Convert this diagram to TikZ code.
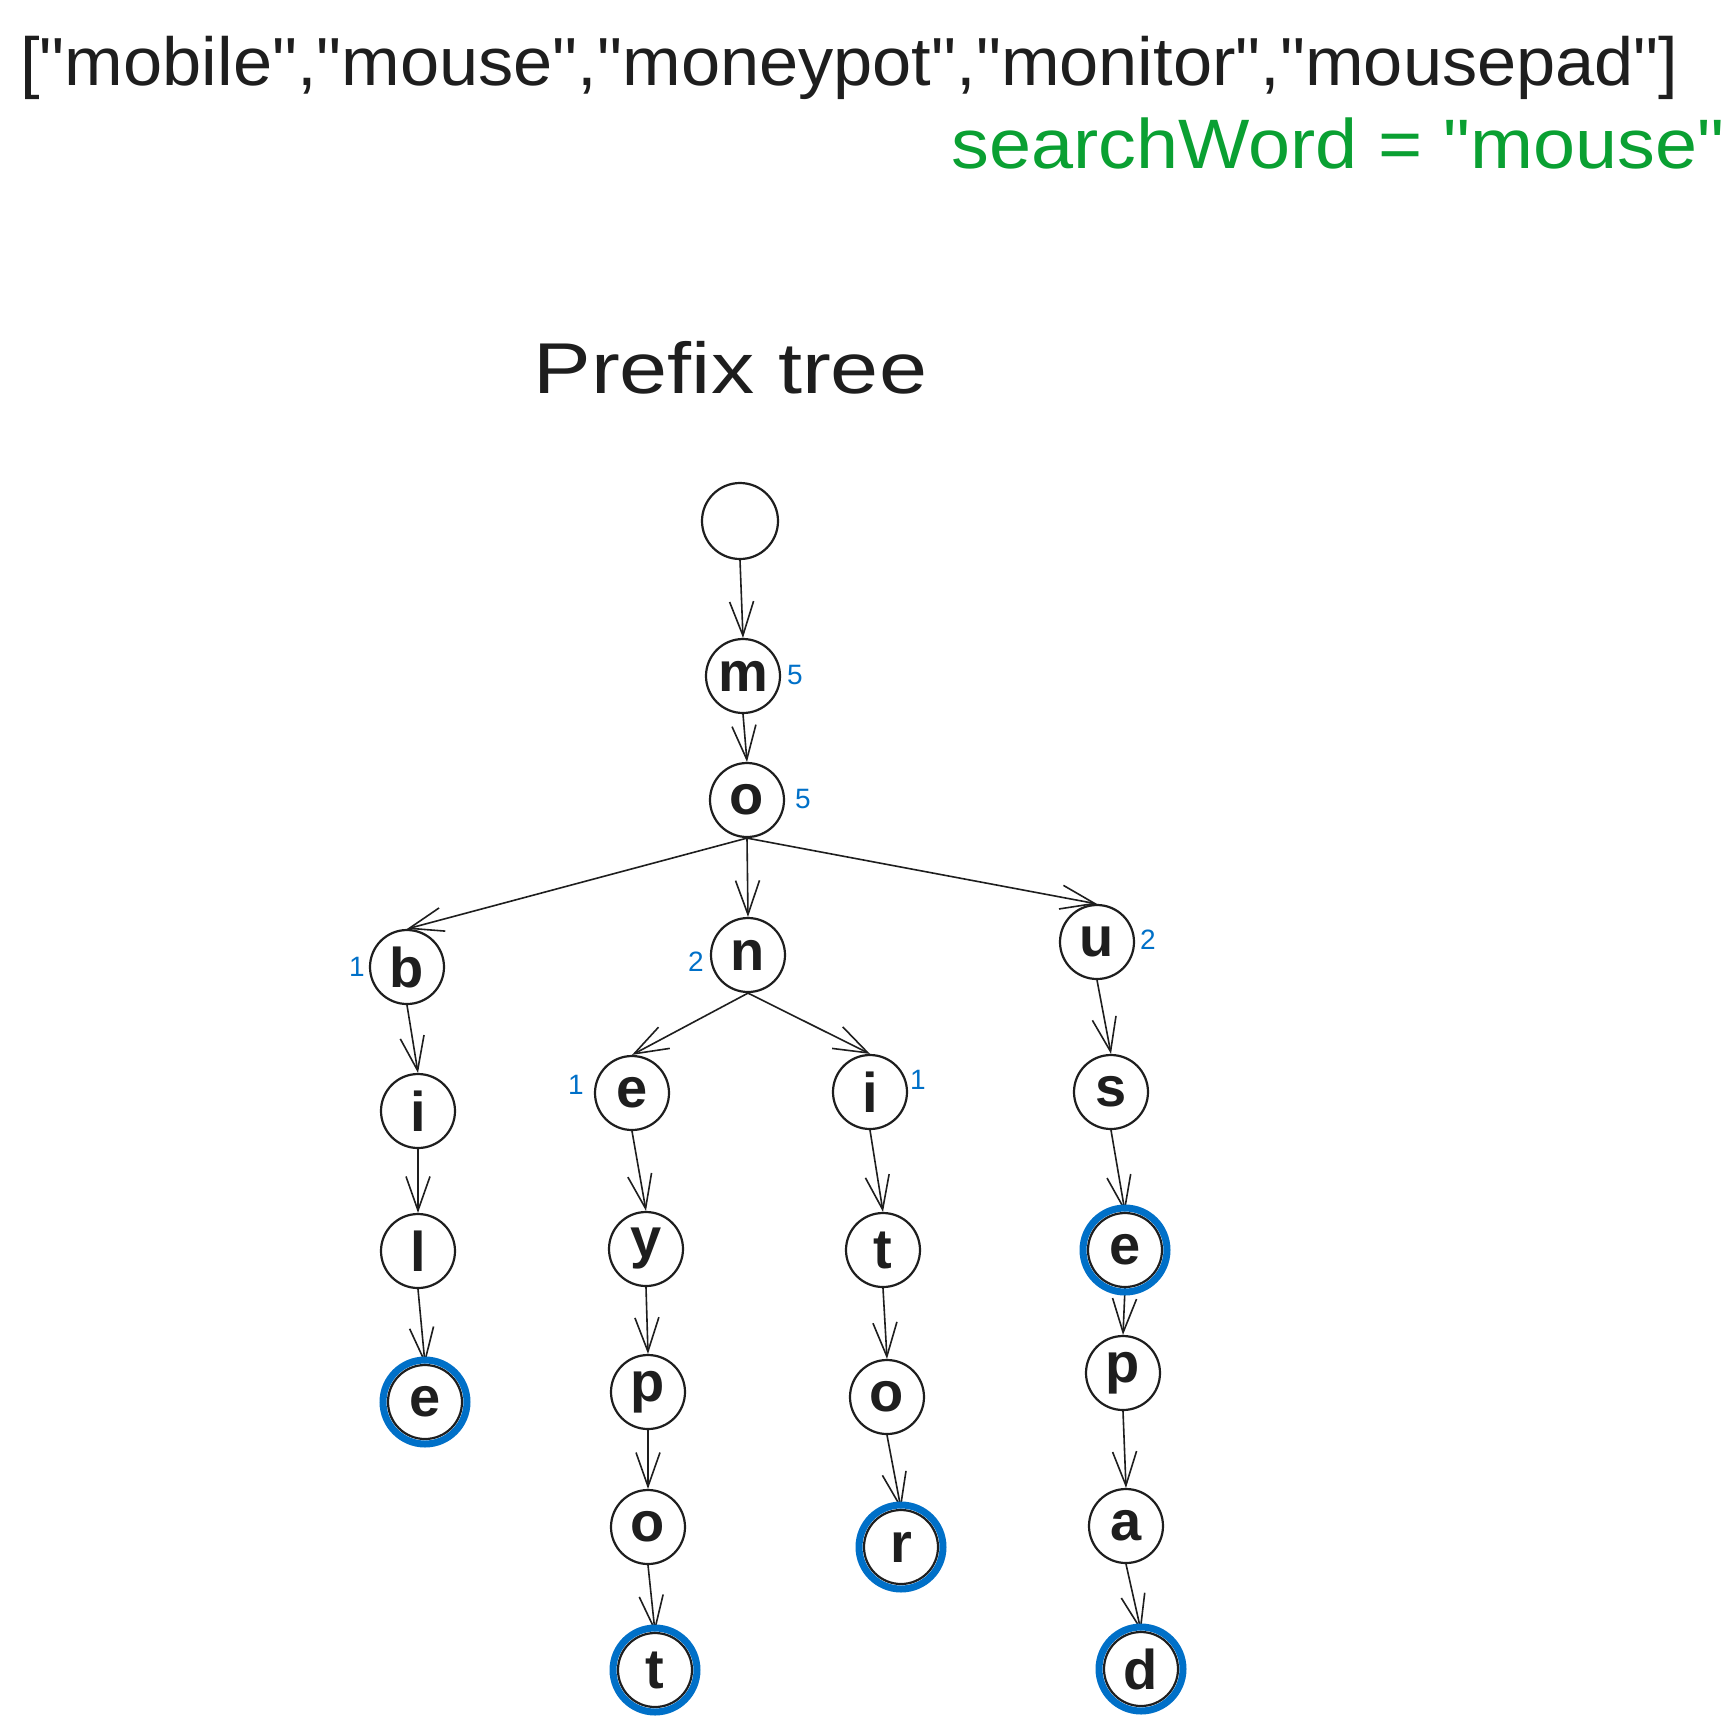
\documentclass[tikz,border=0pt]{standalone}
\usepackage{fontspec}
\setmainfont{Liberation Sans}[Ligatures=TeXOff]
\usetikzlibrary{arrows.meta}
\definecolor{exgreen}{RGB}{10,160,50}
\definecolor{exblue}{RGB}{0,112,200}
\definecolor{ink}{RGB}{30,30,30}
\begin{document}
\begin{tikzpicture}[x=0.5pt,y=-0.5pt,
  tn/.style={circle, draw=ink, line width=1.1pt, minimum size=37pt, inner sep=0pt,
    font=\fontsize{28}{28}\selectfont\bfseries, text=ink},
  cnt/.style={text=exblue, font=\fontsize{14}{14}\selectfont, inner sep=0pt},
  edge/.style={draw=ink, line width=0.8pt, -{Straight Barb[length=17pt,width=12pt]}},
  ring/.style={draw=exblue, line width=3.5pt},
  big/.style={inner sep=0pt, font=\fontsize{34}{34}\selectfont}]
\useasboundingbox (0,0) rectangle (1736,1730);
\fill[white] (0,0) rectangle (1736,1730);

% texts
\node[big, anchor=base west, text=ink] (words) at (20,85)
  {\scalebox{1.035}[1]{["mobile","mouse","moneypot","monitor","mousepad"]}};
\node[big, anchor=base east, text=exgreen, font=\fontsize{35}{35}\selectfont] (search) at (1725,168)
  {\scalebox{1.08}[1]{searchWord = "mouse"}};
\node[big, anchor=base west, text=ink, font=\fontsize{36}{36}\selectfont] (title) at (533,393)
  {\scalebox{1.2}[1]{Prefix tree}};

% nodes
\node[tn, minimum size=38pt] (root) at (740,521) {};
\node[tn] (m) at (743,676) {m};
\node[tn] (o) at (747,800) {o};
\node[tn] (b) at (407,967) {b};
\node[tn] (n) at (748,955) {n};
\node[tn] (u) at (1097,942) {u};
\node[tn] (bi) at (418,1111) {i};
\node[tn] (bl) at (418,1251) {l};
\node[tn] (be) at (425,1402) {e};
\node[tn] (ne) at (632,1093) {e};
\node[tn] (ny) at (646,1249) {y};
\node[tn] (np) at (648,1392) {p};
\node[tn] (no) at (648,1527) {o};
\node[tn] (nt) at (655,1670) {t};
\node[tn] (ni) at (870,1092) {i};
\node[tn] (nit) at (883,1250) {t};
\node[tn] (nio) at (887,1397) {o};
\node[tn] (nir) at (901,1547) {r};
\node[tn] (us) at (1111,1092) {s};
\node[tn] (use) at (1125,1250) {e};
\node[tn] (usp) at (1123,1373) {p};
\node[tn] (usa) at (1126,1526) {a};
\node[tn] (usd) at (1141,1669) {d};

% counts
\node[cnt] (cm) at (795,675) {5};
\node[cnt] (co) at (803,799) {5};
\node[cnt] (cb) at (357,967) {1};
\node[cnt] (cn) at (696,962) {2};
\node[cnt] (cu) at (1148,940) {2};
\node[cnt] (ce) at (576,1085) {1};
\node[cnt] (ci) at (918,1080) {1};

% edges
\foreach \a/\b in {root/m, m/o, o/b, o/n, o/u, b/bi, bi/bl, bl/be,
  n/ne, n/ni, ne/ny, ny/np, np/no, no/nt, ni/nit, nit/nio, nio/nir,
  u/us, us/use, use/usp, usp/usa, usa/usd}
  \draw[edge] (\a.south) -- (\b.north);

% terminal rings
\foreach \t in {be, nt, nir, use, usd}
  \draw[ring] (\t) circle[radius=21pt];
\end{tikzpicture}
\end{document}
